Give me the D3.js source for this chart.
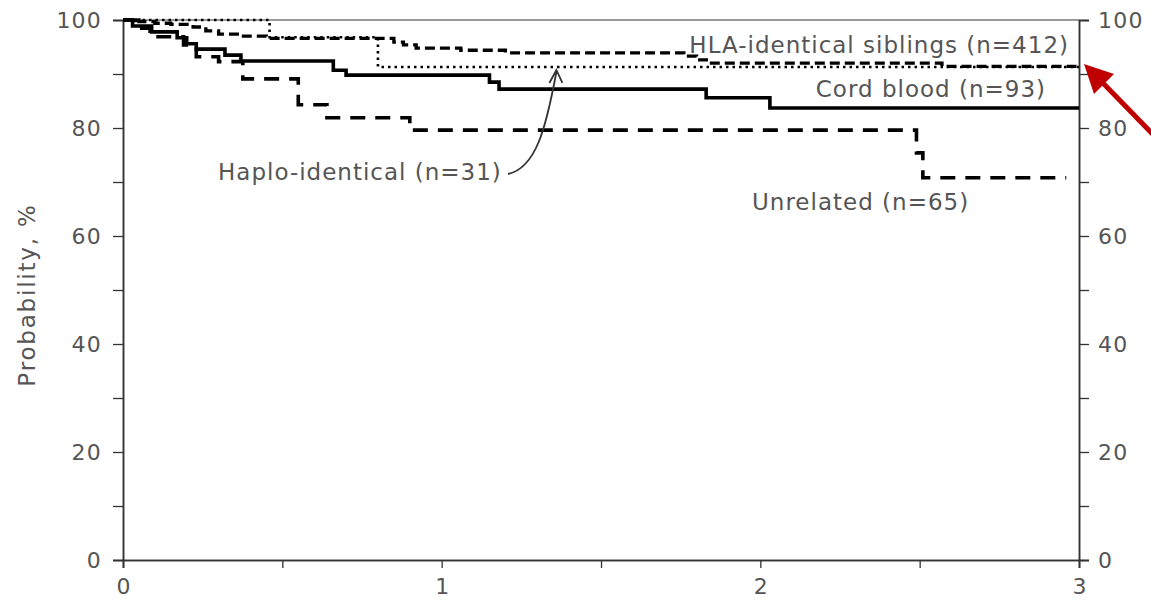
<!DOCTYPE html>
<html>
<head>
<meta charset="utf-8">
<script src="https://cdn.jsdelivr.net/npm/d3@7"></script>
<style>
  body { margin: 0; background: #fff; }
  text { font-family: "DejaVu Sans", Verdana, sans-serif; fill: #555; }
</style>
</head>
<body>
<svg id="chart" width="1151" height="606"></svg>
<script>
// ---- Data (years, probability %) -------------------------------------------
var xTicks = [0, 1, 2, 3];
var xMinorTicks = [0.5, 1.5, 2.5];
var yTicks = [0, 20, 40, 60, 80, 100];
var yMinorTicks = [10, 30, 50, 70, 90];

var hlaSiblings = [
  [0, 100], [0.05, 99.7], [0.1, 99.4], [0.15, 99.2], [0.22, 98.7], [0.26, 98.0],
  [0.3, 97.4], [0.37, 97.0], [0.45, 96.6], [0.85, 95.9], [0.88, 95.4], [0.92, 94.8],
  [1.06, 94.4], [1.2, 93.9], [1.76, 93.3], [1.8, 92.6], [1.84, 92.0], [2.57, 91.4], [3.0, 91.4]
];
var haploIdentical = [
  [0, 100], [0.46, 96.8], [0.8, 91.3], [3.0, 91.3]
];
var cordBlood = [
  [0, 100], [0.03, 98.9], [0.09, 97.8], [0.17, 96.7], [0.2, 95.6], [0.23, 94.6],
  [0.32, 93.5], [0.37, 92.4], [0.66, 90.7], [0.7, 89.8], [1.15, 88.5], [1.18, 87.2],
  [1.83, 85.6], [2.03, 83.7], [3.0, 83.7]
];
var unrelated = [
  [0, 100], [0.04, 98.5], [0.085, 96.9], [0.19, 95.4], [0.23, 93.2], [0.3, 92.3],
  [0.376, 89.1], [0.55, 84.3], [0.64, 81.9], [0.9, 79.6], [2.49, 75.4], [2.51, 70.8],
  [2.96, 70.8]
];

// ---- Layout ------------------------------------------------------------------
var svg = d3.select('#chart');
var x = d3.scaleLinear().domain([0, 3]).range([123, 1079]);
var y = d3.scaleLinear().domain([0, 100]).range([560, 20]);

var axisColor = '#333';

// top frame line
svg.append('line')
  .attr('x1', x(0)).attr('x2', x(3))
  .attr('y1', y(100)).attr('y2', y(100))
  .attr('stroke', '#777').attr('stroke-width', 1.5);

function styleAxis(g) {
  g.select('.domain').attr('stroke', axisColor).attr('stroke-width', 1.5);
  g.selectAll('.tick line').attr('stroke', axisColor).attr('stroke-width', 1.3);
  g.selectAll('.tick text')
    .attr('fill', '#555')
    .style('font-family', '"DejaVu Sans", Verdana, sans-serif')
    .style('font-size', '22px')
    .style('letter-spacing', '1.2px');
}

// minor ticks first
svg.append('g').attr('transform', 'translate(' + x(0) + ',0)')
  .call(d3.axisLeft(y).tickValues(yMinorTicks).tickSize(10).tickFormat(''))
  .call(styleAxis);
svg.append('g').attr('transform', 'translate(' + x(3) + ',0)')
  .call(d3.axisRight(y).tickValues(yMinorTicks).tickSize(10).tickFormat(''))
  .call(styleAxis);
svg.append('g').attr('transform', 'translate(0,' + y(0) + ')')
  .call(d3.axisBottom(x).tickValues(xMinorTicks).tickSize(8).tickFormat(''))
  .call(styleAxis);

svg.append('g').attr('transform', 'translate(' + x(0) + ',0)')
  .call(d3.axisLeft(y).tickValues(yTicks).tickSize(10).tickPadding(11).tickFormat(d3.format('d')))
  .call(styleAxis);
svg.append('g').attr('transform', 'translate(' + x(3) + ',0)')
  .call(d3.axisRight(y).tickValues(yTicks).tickSize(10).tickPadding(9).tickFormat(d3.format('d')))
  .call(styleAxis);
svg.append('g').attr('transform', 'translate(0,' + y(0) + ')')
  .call(d3.axisBottom(x).tickValues(xTicks).tickSize(8).tickPadding(10).tickFormat(d3.format('d')))
  .call(styleAxis)
  .selectAll('.tick text').attr('dx', '0.6px');

svg.append('text')
  .attr('transform', 'translate(35,' + (y(50) + 5) + ') rotate(-90)')
  .attr('text-anchor', 'middle')
  .style('font-size', '23px')
  .style('letter-spacing', '1.8px')
  .text('Probability, %');

// ---- Curves ------------------------------------------------------------------
var step = d3.line()
  .x(function(d) { return x(d[0]); })
  .y(function(d) { return y(d[1]); })
  .curve(d3.curveStepAfter);

var series = [
  { data: cordBlood, dash: null, width: 3.6 },
  { data: unrelated, dash: '15,10', width: 3.6 },
  { data: hlaSiblings, dash: '10,5', width: 3.3 },
  { data: haploIdentical, dash: '2.5,4', width: 2.6 }
];
series.forEach(function(s) {
  svg.append('path')
    .attr('d', step(s.data))
    .attr('fill', 'none')
    .attr('stroke', '#000')
    .attr('stroke-width', s.width)
    .attr('stroke-dasharray', s.dash);
});

// ---- Labels ------------------------------------------------------------------
function label(txt, xx, yy, anchor) {
  svg.append('text')
    .attr('x', xx).attr('y', yy)
    .attr('text-anchor', anchor || 'start')
    .style('font-size', '23px')
    .style('letter-spacing', '1px')
    .text(txt);
}
label('HLA-identical siblings (n=412)', 1069, 53, 'end');
label('Cord blood (n=93)', 1046, 97, 'end');
label('Haplo-identical (n=31)', 218, 180);
label('Unrelated (n=65)', 752, 210);

// curved pointer to haplo-identical curve
var tip = [x(1.36), y(91.3) + 3];
svg.append('path')
  .attr('d', 'M508,174 C536,168 546,128 ' + tip[0] + ',' + (tip[1] + 2))
  .attr('fill', 'none').attr('stroke', '#333').attr('stroke-width', 1.8);
svg.append('path')
  .attr('d', 'M' + (tip[0] - 7) + ',' + (tip[1] + 13) + ' L' + tip[0] + ',' + tip[1] +
             ' L' + (tip[0] + 6) + ',' + (tip[1] + 13))
  .attr('fill', 'none').attr('stroke', '#333').attr('stroke-width', 1.8);

// red arrow on the right edge
var rTip = [x(3) + 5, y(91.3) - 3];
svg.append('line')
  .attr('x1', 1170).attr('y1', 152)
  .attr('x2', rTip[0] + 16).attr('y2', rTip[1] + 16)
  .attr('stroke', '#c00000').attr('stroke-width', 5);
svg.append('path')
  .attr('d', 'M' + rTip[0] + ',' + rTip[1] +
             ' L' + (rTip[0] + 30) + ',' + (rTip[1] + 10) +
             ' L' + (rTip[0] + 10) + ',' + (rTip[1] + 30) + ' Z')
  .attr('fill', '#c00000');
</script>
</body>
</html>
